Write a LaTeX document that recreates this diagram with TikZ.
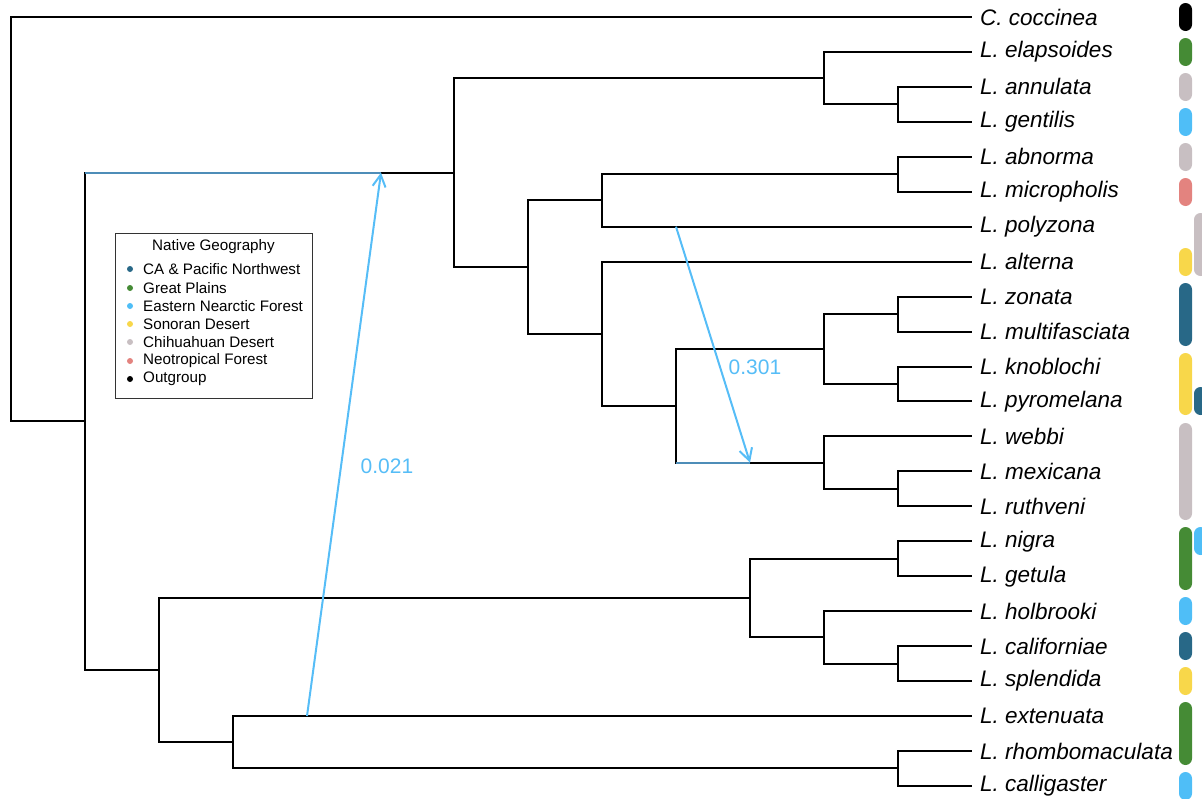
\documentclass[tikz,border=0pt]{standalone}
\usepackage{fontspec}
\setmainfont{Liberation Sans}
\usetikzlibrary{arrows.meta}
\definecolor{cgreen}{HTML}{458B35}
\definecolor{cgrey}{HTML}{C8BFC2}
\definecolor{clblue}{HTML}{4FBEF7}
\definecolor{cpink}{HTML}{E3837F}
\definecolor{cyellow}{HTML}{F8D74A}
\definecolor{cdblue}{HTML}{286887}
\definecolor{chyb}{HTML}{4E8DB8}
\definecolor{carrow}{HTML}{56BDF7}
\begin{document}
\begin{tikzpicture}[x=1pt,y=-1pt,
  edge/.style={line width=2pt, line join=miter},
  hyb/.style={line width=2pt, chyb},
  reticul/.style={line width=2pt, carrow, -{Straight Barb[length=12pt,width=13pt,line width=2pt]}},
  tiplab/.style={anchor=west, inner xsep=8pt, inner ysep=0pt, font=\fontsize{22.5}{24}\selectfont\itshape},
  problab/.style={text=carrow, font=\fontsize{21}{22}\selectfont},
  legtitle/.style={font=\fontsize{15.2}{16}\selectfont},
  legitem/.style={anchor=west, inner sep=0pt, font=\fontsize{15.2}{16}\selectfont},
  bar/.style={rounded corners=6.5pt}]
\useasboundingbox (0,0) rectangle (1202,798);
\clip (0,0) rectangle (1202,798);
% tips
\node[tiplab] (L1) at (972,17) {C. coccinea};
\node[tiplab] (L2) at (972,51.95) {L. elapsoides};
\node[tiplab] (L3) at (972,86.9) {L. annulata};
\node[tiplab] (L4) at (972,121.85) {L. gentilis};
\node[tiplab] (L5) at (972,156.8) {L. abnorma};
\node[tiplab] (L6) at (972,191.75) {L. micropholis};
\node[tiplab] (L7) at (972,226.7) {L. polyzona};
\node[tiplab] (L8) at (972,261.65) {L. alterna};
\node[tiplab] (L9) at (972,296.6) {L. zonata};
\node[tiplab] (L10) at (972,331.55) {L. multifasciata};
\node[tiplab] (L11) at (972,366.5) {L. knoblochi};
\node[tiplab] (L12) at (972,401.45) {L. pyromelana};
\node[tiplab] (L13) at (972,436.4) {L. webbi};
\node[tiplab] (L14) at (972,471.35) {L. mexicana};
\node[tiplab] (L15) at (972,506.3) {L. ruthveni};
\node[tiplab] (L16) at (972,541.25) {L. nigra};
\node[tiplab] (L17) at (972,576.2) {L. getula};
\node[tiplab] (L18) at (972,611.15) {L. holbrooki};
\node[tiplab] (L19) at (972,646.1) {L. californiae};
\node[tiplab] (L20) at (972,681.05) {L. splendida};
\node[tiplab] (L21) at (972,716) {L. extenuata};
\node[tiplab] (L22) at (972,750.95) {L. rhombomaculata};
\node[tiplab] (L23) at (972,785.9) {L. calligaster};
% internal nodes
\coordinate (ag) at (898,104.375);
\coordinate (eag) at (824,78.16);
\coordinate (am) at (898,174.275);
\coordinate (amp) at (602,200.49);
\coordinate (zm) at (898,314.075);
\coordinate (kp) at (898,383.975);
\coordinate (zmkp) at (824,349.025);
\coordinate (mr) at (898,488.825);
\coordinate (wmr) at (824,462.61);
\coordinate (n6) at (676,405.82);
\coordinate (alt) at (602,333.73);
\coordinate (n528) at (528,267.11);
\coordinate (n454) at (454,172.64);
\coordinate (ng) at (898,558.725);
\coordinate (cs) at (898,663.575);
\coordinate (hcs) at (824,637.36);
\coordinate (n750) at (750,598.04);
\coordinate (rc) at (898,768.425);
\coordinate (n233) at (233,742.21);
\coordinate (n159) at (159,670.13);
\coordinate (n85) at (85,421.38);
\coordinate (root) at (11,219);
% edges
\draw[edge] (root) |- (L1.west);
\draw[edge] (root) |- (n85);
\draw[edge] (n85) |- (n454);
\draw[edge] (n85) |- (n159);
\draw[edge] (n454) |- (eag);
\draw[edge] (n454) |- (n528);
\draw[edge] (eag) |- (L2.west);
\draw[edge] (eag) |- (ag);
\draw[edge] (ag) |- (L3.west);
\draw[edge] (ag) |- (L4.west);
\draw[edge] (n528) |- (amp);
\draw[edge] (n528) |- (alt);
\draw[edge] (amp) |- (am);
\draw[edge] (amp) |- (L7.west);
\draw[edge] (am) |- (L5.west);
\draw[edge] (am) |- (L6.west);
\draw[edge] (alt) |- (L8.west);
\draw[edge] (alt) |- (n6);
\draw[edge] (n6) |- (zmkp);
\draw[edge] (n6) |- (wmr);
\draw[edge] (zmkp) |- (zm);
\draw[edge] (zmkp) |- (kp);
\draw[edge] (zm) |- (L9.west);
\draw[edge] (zm) |- (L10.west);
\draw[edge] (kp) |- (L11.west);
\draw[edge] (kp) |- (L12.west);
\draw[edge] (wmr) |- (L13.west);
\draw[edge] (wmr) |- (mr);
\draw[edge] (mr) |- (L14.west);
\draw[edge] (mr) |- (L15.west);
\draw[edge] (n159) |- (n750);
\draw[edge] (n159) |- (n233);
\draw[edge] (n750) |- (ng);
\draw[edge] (n750) |- (hcs);
\draw[edge] (ng) |- (L16.west);
\draw[edge] (ng) |- (L17.west);
\draw[edge] (hcs) |- (L18.west);
\draw[edge] (hcs) |- (cs);
\draw[edge] (cs) |- (L19.west);
\draw[edge] (cs) |- (L20.west);
\draw[edge] (n233) |- (L21.west);
\draw[edge] (n233) |- (rc);
\draw[edge] (rc) |- (L22.west);
\draw[edge] (rc) |- (L23.west);
% reticulation
\coordinate (a1s) at (307,716);
\coordinate (a1e) at (381,172.64);
\coordinate (a2s) at (676,226.7);
\coordinate (a2e) at (750,462.61);
\draw[hyb] (n85 |- n454) -- (a1e);
\draw[hyb] (n6 |- wmr) -- (a2e);
\draw[reticul] (a1s) -- (a1e);
\draw[reticul] (a2s) -- (a2e);
\node[problab] (p1) at (387,466) {0.021};
\node[problab] (p2) at (755,367) {0.301};
% legend
\node[draw=black!80, line width=1pt, fill=white, minimum width=197pt, minimum height=165pt, inner sep=0pt] (leg) at (213.5,315.5) {};
\node[legtitle] (lt) at (213.5,247) {Native Geography};
\foreach \c/\t/\y [count=\i] in {cdblue/CA \& Pacific Northwest/269, cgreen/Great Plains/288, clblue/Eastern Nearctic Forest/306, cyellow/Sonoran Desert/324, cgrey/Chihuahuan Desert/342, cpink/Neotropical Forest/361, black/Outgroup/379}{
  \fill[\c] (130,\y) circle (3pt);
  \node[legitem] (li\i) at (143,\y) {\t};
}
% geography bars
\fill[bar, black] (1179,3) rectangle (1192,31);
\fill[bar, cgreen] (1179,38) rectangle (1192,66);
\fill[bar, cgrey] (1179,73) rectangle (1192,101);
\fill[bar, clblue] (1179,108) rectangle (1192,136);
\fill[bar, cgrey] (1179,143) rectangle (1192,171);
\fill[bar, cpink] (1179,178) rectangle (1192,206);
\fill[bar, cgrey] (1194,213) rectangle (1207,276);
\fill[bar, cyellow] (1179,248) rectangle (1192,276);
\fill[bar, cdblue] (1179,283) rectangle (1192,346);
\fill[bar, cyellow] (1179,353) rectangle (1192,415);
\fill[bar, cdblue] (1194,387) rectangle (1207,415);
\fill[bar, cgrey] (1179,423) rectangle (1192,520);
\fill[bar, cgreen] (1179,527) rectangle (1192,590);
\fill[bar, clblue] (1194,527) rectangle (1207,555);
\fill[bar, clblue] (1179,597) rectangle (1192,625);
\fill[bar, cdblue] (1179,632) rectangle (1192,660);
\fill[bar, cyellow] (1179,667) rectangle (1192,695);
\fill[bar, cgreen] (1179,702) rectangle (1192,765);
\fill[bar, clblue] (1179,772) rectangle (1192,800);
\end{tikzpicture}
\end{document}
